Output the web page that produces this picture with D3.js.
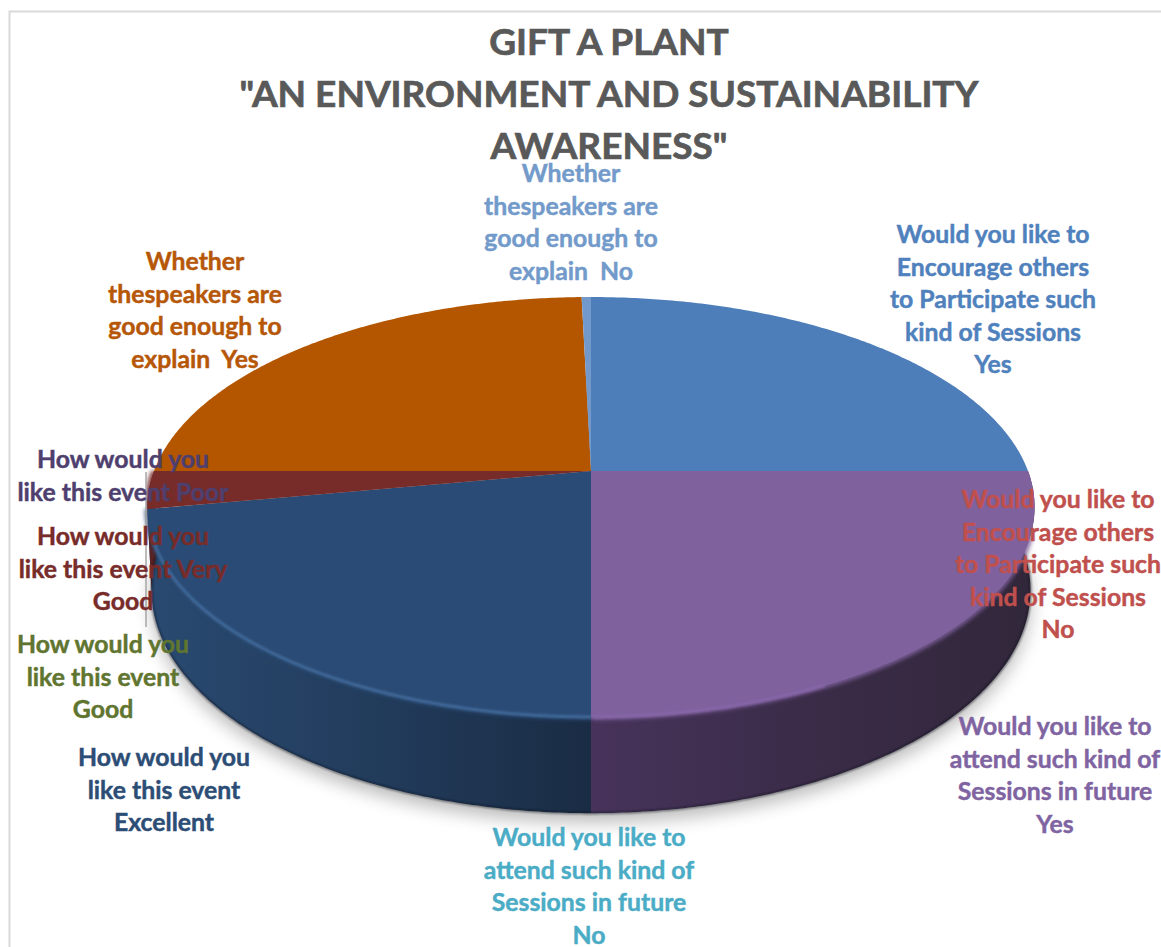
<!DOCTYPE html>
<html lang="en">
	<head>
		<meta charset="utf-8">
		<title>Gift a plant pie</title>
		<script src="https://d3js.org/d3.v7.min.js"></script>
		<style>
			html, body { margin: 0; padding: 0; background: #fff; overflow: hidden; }
			svg { display: block; }
			text { font-family: Lato, "Open Sans", sans-serif; font-weight: 700; }
			text.title { font-size: 37px; fill: #595959; stroke: #595959; stroke-width: 0.7px; text-anchor: middle; }
			text.label { font-size: 24.8px; stroke-width: 0.45px; text-anchor: middle; }
		</style>
	</head>
	<body>
		<div id="chart"></div>
		<script>
			// data, share of answers per question
			const categories = [
				"Would you like to Encourage others to Participate such kind of Sessions Yes",
				"Would you like to Encourage others to Participate such kind of Sessions No",
				"Would you like to attend such kind of Sessions in future Yes",
				"Would you like to attend such kind of Sessions in future No",
				"How would you like this event Excellent",
				"How would you like this event Good",
				"How would you like this event Very Good",
				"How would you like this event Poor",
				"Whether thespeakers are good enough to explain Yes",
				"Whether thespeakers are good enough to explain No"
			];
			const values = [100, 0, 100, 0, 88.4, 0, 11.6, 0, 98.4, 1.6];
			const titleLines = ["GIFT A PLANT", "\"AN ENVIRONMENT AND SUSTAINABILITY", "AWARENESS\""];
			const labelLines = [
				["Would you like to", "Encourage others", "to Participate such", "kind of Sessions", "Yes"],
				["Would you like to", "Encourage others", "to Participate such", "kind of Sessions", "No"],
				["Would you like to", "attend such kind of", "Sessions in future", "Yes"],
				["Would you like to", "attend such kind of", "Sessions in future", "No"],
				["How would you", "like this event", "Excellent"],
				["How would you", "like this event", "Good"],
				["How would you", "like this event Very", "Good"],
				["How would you", "like this event Poor"],
				["Whether", "thespeakers are", "good enough to", "explain  Yes"],
				["Whether", "thespeakers are", "good enough to", "explain  No"]
			];

			// layout and colours
			const labelX = [993, 1058, 1055, 589, 164, 103, 123, 123, 195, 571];
			const labelY = [243, 508, 735, 846, 766, 653, 545, 468, 270, 182];
			const lineGap = 32.6;
			const faceColours = ["#4d7eba", "#b8494a", "#7f619e", "#4bacc6", "#2a4b75", "#5f7530", "#772c2a", "#4e3f6e", "#b45600", "#7299ca"];
			const textColours = ["#4f81bd", "#c0504d", "#8064a2", "#4bacc6", "#2c4d75", "#5f7530", "#772c2a", "#4e3f6e", "#b65708", "#729aca"];

			const width = 1161, height = 947;
			const cx = 591;
			const k = 0.1714;
			const topRim = { cy: 471, rx: 437, ry: 203.8 };
			const baseRim = { cy: 552, rx: 433, ry: 216.4 };

			const svg = d3.select("#chart").append("svg")
				.attr("width", width)
				.attr("height", height);

			const defs = svg.append("defs");
			[["blur1", 1.2], ["blur2", 2], ["blurShadow", 9]].forEach(b => {
				defs.append("filter")
					.attr("id", b[0])
					.attr("x", "-10%").attr("y", "-10%")
					.attr("width", "120%").attr("height", "120%")
					.append("feGaussianBlur")
					.attr("stdDeviation", b[1]);
			});

			// side wall shading goes horizontally, darkest toward one end
			const sideStops = {
				4: [[146, "#2a4a71"], [400, "#213a59"], [591, "#1a2c44"]],
				6: [[140, "#5a2222"], [160, "#5a2222"]],
				2: [[591, "#47335b"], [800, "#3b2c49"], [1037, "#31273a"]]
			};
			Object.keys(sideStops).forEach(i => {
				const st = sideStops[i];
				const g = defs.append("linearGradient")
					.attr("id", "side" + i)
					.attr("gradientUnits", "userSpaceOnUse")
					.attr("x1", st[0][0]).attr("x2", st[st.length - 1][0])
					.attr("y1", 0).attr("y2", 0);
				st.forEach(s => g.append("stop")
					.attr("offset", (s[0] - st[0][0]) / (st[st.length - 1][0] - st[0][0]))
					.attr("stop-color", s[1]));
			});

			// tilted disc: angle on the pie to a point on screen
			function project(a, rim) {
				const w = 1 + k * Math.cos(a);
				return [cx + rim.rx * Math.sin(a) / w, rim.cy - rim.ry * Math.cos(a) / w];
			}
			function arcPoints(a0, a1, rim) {
				const n = Math.max(2, Math.ceil((a1 - a0) / 0.01));
				return d3.range(n + 1).map(i => project(a0 + (a1 - a0) * i / n, rim));
			}

			const line = d3.line();
			const arcs = d3.pie().sort(null).value(d => d)(values);
			const drawn = arcs.map((d, i) => ({ a0: d.startAngle, a1: d.endAngle, i: i })).filter(d => d.a1 > d.a0);
			const front = drawn.filter(d => sideStops[d.i]);

			// shadow below the pie
			svg.append("path")
				.attr("d", line(arcPoints(0, 2 * Math.PI, baseRim)) + "Z")
				.attr("transform", "translate(0,9)")
				.attr("fill", "#000")
				.attr("opacity", 0.27)
				.attr("filter", "url(#blurShadow)");

			// frame of the chart area
			svg.append("path")
				.attr("d", "M9.5," + height + "V11.5H" + width)
				.attr("fill", "none")
				.attr("stroke", "#d9d9d9")
				.attr("stroke-width", 2);

			// side walls
			svg.selectAll("path.side")
				.data(front)
				.join("path")
				.attr("class", "side")
				.attr("d", d => line(arcPoints(d.a0, d.a1, topRim).concat(arcPoints(d.a0, d.a1, baseRim).reverse())) + "Z")
				.attr("fill", d => "url(#side" + d.i + ")");

			// dark line where the wall ends at the bottom
			svg.selectAll("path.baseEdge")
				.data(front)
				.join("path")
				.attr("class", "baseEdge")
				.attr("d", d => line(arcPoints(d.a0, d.a1, baseRim)))
				.attr("fill", "none")
				.attr("stroke", "#10131f")
				.attr("stroke-width", 2)
				.attr("opacity", 0.6)
				.attr("filter", "url(#blur1)");

			// soft front edge of the top face, not reaching the seam at the right
			svg.selectAll("path.soft")
				.data(front)
				.join("path")
				.attr("class", "soft")
				.attr("d", d => line(arcPoints(d.i == 2 ? d.a0 + 0.3 : d.a0, d.a1, topRim)))
				.attr("fill", "none")
				.attr("stroke", d => faceColours[d.i])
				.attr("stroke-width", 5)
				.attr("filter", "url(#blur2)");

			// top face
			svg.selectAll("path.face")
				.data(drawn)
				.join("path")
				.attr("class", "face")
				.attr("d", d => line([[cx, topRim.cy]].concat(arcPoints(d.a0, d.a1, topRim))) + "Z")
				.attr("fill", d => faceColours[d.i]);

			// highlight running along the rim
			svg.selectAll("path.rim")
				.data(front.filter(d => d.i != 6))
				.join("path")
				.attr("class", "rim")
				.attr("d", d => line(arcPoints(d.i == 2 ? d.a0 + 1.1 : d.a0, d.i == 4 ? d.a1 - 0.12 : d.a1, topRim)))
				.attr("fill", "none")
				.attr("stroke", d => d.i == 4 ? "#41699a" : "#8766a8")
				.attr("stroke-width", 3)
				.attr("filter", "url(#blur1)");

			// leader line at the left of the pie
			svg.append("line")
				.attr("x1", 146).attr("x2", 146)
				.attr("y1", 472).attr("y2", 627)
				.attr("stroke", "#a6a6a6")
				.attr("stroke-width", 1.5);

			// title
			svg.selectAll("text.title")
				.data(titleLines)
				.join("text")
				.attr("class", "title")
				.attr("x", 609)
				.attr("y", (d, i) => 55 + i * 52)
				.text(d => d);

			// slice labels, also for the empty slices
			labelLines.forEach((lines, i) => {
				svg.selectAll("text.l" + i)
					.data(lines)
					.join("text")
					.attr("class", "label l" + i)
					.attr("x", labelX[i])
					.attr("y", (d, j) => labelY[i] + j * lineGap)
					.attr("fill", textColours[i])
					.attr("stroke", textColours[i])
					.style("white-space", "pre")
					.text(d => d);
			});
		</script>
	</body>
</html>
